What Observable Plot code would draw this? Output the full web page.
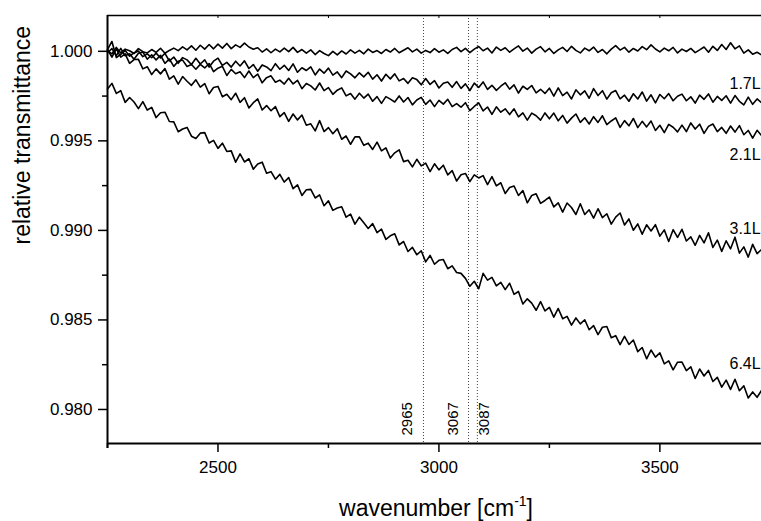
<!DOCTYPE html>
<html><head><meta charset="utf-8">
<script src="https://cdn.jsdelivr.net/npm/d3@7"></script>
<script src="https://cdn.jsdelivr.net/npm/@observablehq/plot@0.6"></script>
<style>
html,body{margin:0;padding:0;background:#fff;overflow:hidden;}
#chart{width:761px;height:521px;}
</style></head><body><div id="chart"></div>
<script>
// wavenumber grid [cm-1]
const wavenumber = [
2250,2260,2270,2280,2290,2300,2310,2320,2330,2340,
2350,2360,2370,2380,2390,2400,2410,2420,2430,2440,
2450,2460,2470,2480,2490,2500,2510,2520,2530,2540,
2550,2560,2570,2580,2590,2600,2610,2620,2630,2640,
2650,2660,2670,2680,2690,2700,2710,2720,2730,2740,
2750,2760,2770,2780,2790,2800,2810,2820,2830,2840,
2850,2860,2870,2880,2890,2900,2910,2920,2930,2940,
2950,2960,2970,2980,2990,3000,3010,3020,3030,3040,
3050,3060,3070,3080,3090,3100,3110,3120,3130,3140,
3150,3160,3170,3180,3190,3200,3210,3220,3230,3240,
3250,3260,3270,3280,3290,3300,3310,3320,3330,3340,
3350,3360,3370,3380,3390,3400,3410,3420,3430,3440,
3450,3460,3470,3480,3490,3500,3510,3520,3530,3540,
3550,3560,3570,3580,3590,3600,3610,3620,3630,3640,
3650,3660,3670,3680,3690,3700,3710,3720,3730];

// relative transmittance, reference (unlabeled) spectrum
const tRef = [
1.00004,0.99986,1.00022,0.99991,1.00012,1.00003,0.99988,1.00015,0.99998,0.99991,
1.00010,0.99994,1.00017,0.99989,1.00005,1.00018,1.00004,1.00025,1.00008,1.00030,
1.00006,1.00034,1.00012,1.00038,1.00014,1.00040,1.00018,1.00044,1.00015,1.00036,
1.00022,1.00046,1.00024,1.00012,1.00020,0.99996,1.00014,0.99992,1.00012,0.99997,
1.00018,0.99998,1.00022,0.99994,1.00010,0.99990,1.00008,0.99982,1.00004,0.99988,
0.99976,1.00000,0.99980,1.00002,0.99985,1.00008,0.99990,1.00005,0.99986,1.00012,
0.99994,1.00004,0.99988,1.00010,0.99996,1.00016,0.99992,1.00006,1.00020,0.99997,
1.00012,0.99990,1.00005,0.99993,1.00015,0.99995,1.00008,0.99988,1.00010,1.00022,
0.99998,1.00016,0.99993,1.00012,1.00027,1.00003,1.00018,0.99991,1.00024,1.00005,
1.00020,0.99995,1.00014,1.00030,1.00001,1.00018,0.99990,1.00012,1.00026,0.99997,
1.00016,0.99988,1.00008,1.00022,0.99999,1.00028,1.00005,0.99991,1.00018,1.00003,
1.00024,0.99994,1.00010,0.99986,1.00012,1.00032,1.00007,1.00022,0.99995,1.00016,
1.00002,1.00026,1.00009,1.00036,1.00013,0.99997,1.00018,1.00003,1.00022,0.99991,
1.00012,0.99999,1.00016,0.99993,1.00008,1.00024,0.99995,1.00028,1.00005,1.00038,
1.00010,1.00048,1.00014,1.00030,0.99990,1.00008,0.99984,0.99995,0.99980];

// 1.7 L
const t17 = [
1.00010,1.00055,0.99965,0.99983,1.00005,0.99973,0.99991,1.00002,0.99970,0.99986,
0.99964,0.99990,0.99963,0.99989,0.99946,0.99968,0.99933,0.99965,0.99952,0.99926,
0.99961,0.99929,0.99952,0.99912,0.99945,0.99962,0.99921,0.99938,0.99912,0.99945,
0.99918,0.99947,0.99904,0.99926,0.99889,0.99924,0.99913,0.99892,0.99931,0.99900,
0.99922,0.99893,0.99930,0.99883,0.99908,0.99893,0.99913,0.99868,0.99901,0.99878,
0.99906,0.99867,0.99885,0.99853,0.99890,0.99874,0.99852,0.99880,0.99857,0.99883,
0.99845,0.99869,0.99834,0.99872,0.99846,0.99874,0.99835,0.99848,0.99821,0.99852,
0.99842,0.99813,0.99848,0.99815,0.99836,0.99795,0.99822,0.99829,0.99799,0.99831,
0.99793,0.99818,0.99781,0.99822,0.99798,0.99829,0.99787,0.99810,0.99782,0.99805,
0.99824,0.99789,0.99813,0.99767,0.99805,0.99787,0.99809,0.99768,0.99788,0.99765,
0.99794,0.99750,0.99796,0.99753,0.99772,0.99734,0.99785,0.99757,0.99779,0.99738,
0.99792,0.99753,0.99780,0.99733,0.99769,0.99781,0.99735,0.99755,0.99721,0.99763,
0.99734,0.99773,0.99722,0.99757,0.99712,0.99759,0.99735,0.99764,0.99724,0.99749,
0.99761,0.99724,0.99746,0.99711,0.99755,0.99732,0.99762,0.99716,0.99748,0.99726,
0.99752,0.99711,0.99753,0.99721,0.99701,0.99744,0.99704,0.99734,0.99713];

// 2.1 L
const t21 = [
0.99992,1.00015,0.99976,1.00016,0.99975,0.99986,0.99956,0.99989,0.99996,0.99956,
0.99981,0.99952,0.99978,0.99933,0.99957,0.99916,0.99944,0.99951,0.99915,0.99926,
0.99900,0.99927,0.99907,0.99932,0.99886,0.99906,0.99916,0.99865,0.99899,0.99875,
0.99886,0.99853,0.99890,0.99853,0.99873,0.99824,0.99853,0.99863,0.99827,0.99839,
0.99817,0.99849,0.99818,0.99838,0.99791,0.99820,0.99807,0.99784,0.99823,0.99780,
0.99797,0.99760,0.99783,0.99796,0.99751,0.99764,0.99733,0.99766,0.99739,0.99761,
0.99721,0.99747,0.99709,0.99747,0.99733,0.99717,0.99751,0.99717,0.99742,0.99701,
0.99728,0.99743,0.99704,0.99728,0.99691,0.99726,0.99705,0.99732,0.99691,0.99708,
0.99688,0.99713,0.99669,0.99692,0.99712,0.99667,0.99689,0.99648,0.99690,0.99660,
0.99679,0.99647,0.99679,0.99634,0.99656,0.99616,0.99655,0.99640,0.99616,0.99656,
0.99623,0.99655,0.99612,0.99642,0.99599,0.99627,0.99650,0.99603,0.99629,0.99594,
0.99635,0.99603,0.99640,0.99591,0.99611,0.99628,0.99575,0.99613,0.99584,0.99625,
0.99574,0.99609,0.99578,0.99611,0.99558,0.99587,0.99546,0.99592,0.99576,0.99550,
0.99588,0.99552,0.99600,0.99566,0.99593,0.99542,0.99581,0.99594,0.99552,0.99575,
0.99542,0.99583,0.99549,0.99585,0.99534,0.99558,0.99515,0.99559,0.99530];

// 3.1 L
const t31 = [
1.00010,0.99967,1.00013,0.99968,0.99986,0.99933,0.99954,0.99955,0.99902,0.99914,
0.99870,0.99902,0.99874,0.99904,0.99845,0.99863,0.99817,0.99859,0.99833,0.99810,
0.99841,0.99800,0.99820,0.99763,0.99798,0.99804,0.99746,0.99760,0.99730,0.99766,
0.99715,0.99741,0.99684,0.99713,0.99734,0.99672,0.99697,0.99668,0.99691,0.99635,
0.99658,0.99609,0.99650,0.99617,0.99644,0.99587,0.99595,0.99556,0.99613,0.99552,
0.99574,0.99540,0.99568,0.99509,0.99527,0.99481,0.99522,0.99522,0.99475,0.99487,
0.99452,0.99493,0.99444,0.99461,0.99404,0.99433,0.99450,0.99384,0.99392,0.99355,
0.99397,0.99360,0.99376,0.99328,0.99372,0.99338,0.99364,0.99310,0.99334,0.99276,
0.99311,0.99318,0.99272,0.99310,0.99293,0.99306,0.99256,0.99300,0.99249,0.99266,
0.99206,0.99240,0.99248,0.99195,0.99222,0.99154,0.99195,0.99204,0.99151,0.99167,
0.99186,0.99131,0.99154,0.99102,0.99153,0.99128,0.99089,0.99149,0.99089,0.99115,
0.99069,0.99121,0.99071,0.99093,0.99035,0.99074,0.99097,0.99030,0.99064,0.99001,
0.99036,0.98979,0.99031,0.98997,0.99032,0.98968,0.99003,0.98938,0.99004,0.98961,
0.99006,0.98941,0.98964,0.98917,0.98972,0.98930,0.98987,0.98905,0.98946,0.98883,
0.98942,0.98897,0.98962,0.98873,0.98908,0.98851,0.98922,0.98870,0.98893];

// 6.4 L
const t64 = [
0.99789,0.99821,0.99765,0.99780,0.99715,0.99742,0.99717,0.99680,0.99719,0.99672,
0.99687,0.99630,0.99657,0.99660,0.99608,0.99606,0.99551,0.99566,0.99575,0.99526,
0.99513,0.99543,0.99546,0.99488,0.99503,0.99458,0.99487,0.99441,0.99444,0.99381,
0.99427,0.99382,0.99400,0.99342,0.99371,0.99381,0.99319,0.99328,0.99286,0.99313,
0.99270,0.99295,0.99233,0.99254,0.99195,0.99227,0.99229,0.99181,0.99198,0.99138,
0.99165,0.99112,0.99125,0.99132,0.99074,0.99091,0.99035,0.99074,0.99043,0.99011,
0.99038,0.98987,0.99007,0.98950,0.98970,0.98981,0.98919,0.98938,0.98882,0.98905,
0.98864,0.98886,0.98824,0.98860,0.98811,0.98833,0.98837,0.98786,0.98802,0.98765,
0.98760,0.98732,0.98688,0.98716,0.98674,0.98760,0.98722,0.98738,0.98690,0.98710,
0.98669,0.98705,0.98643,0.98659,0.98589,0.98618,0.98594,0.98554,0.98602,0.98550,
0.98570,0.98516,0.98564,0.98507,0.98520,0.98471,0.98511,0.98478,0.98501,0.98445,
0.98468,0.98418,0.98459,0.98463,0.98401,0.98412,0.98362,0.98408,0.98363,0.98388,
0.98323,0.98346,0.98283,0.98332,0.98292,0.98316,0.98255,0.98271,0.98221,0.98264,
0.98265,0.98217,0.98238,0.98173,0.98226,0.98187,0.98218,0.98156,0.98179,0.98125,
0.98164,0.98112,0.98169,0.98105,0.98132,0.98064,0.98098,0.98068,0.98106];

const seriesLabels = ["1.7L", "2.1L", "3.1L", "6.4L"];
const peaksLeft = [2965, 3067];
const peaksRight = [3087];
const xTicks = [2500, 3000, 3500];
const xMinorTicks = [2250, 2750, 3250];
const yTicks = [0.980, 0.985, 0.990, 0.995, 1.000];
const yMinorTicks = [0.9825, 0.9875, 0.9925, 0.9975];
const xDomain = [2250, 3730];
const yDomain = [0.9781, 1.002];

const n = Math.min(wavenumber.length, tRef.length, t17.length, t21.length, t31.length, t64.length);
const table = d3.range(n).map(i => ({w: wavenumber[i], r: tRef[i], a: t17[i], b: t21[i], c: t31[i], d: t64[i]}));

const FONT = "Arial, 'Liberation Sans', sans-serif";
const lineStyle = {stroke: "#000", strokeWidth: 1.6, strokeLinejoin: "round"};

const endLabel = (key, label, dy) =>
  Plot.text(table, Plot.selectLast({x: "w", y: key, text: () => label,
    textAnchor: "start", dx: -32, dy, fontSize: 16, fontFamily: FONT, fill: "#000"}));

const plot = Plot.plot({
  width: 761,
  height: 521,
  marginLeft: 107,
  marginRight: 0,
  marginTop: 15,
  marginBottom: 78,
  style: {fontFamily: FONT, background: "#fff", color: "#000"},
  x: {domain: xDomain, label: null},
  y: {domain: yDomain, label: null},
  marks: [
    // dotted peak markers
    Plot.ruleX([...peaksLeft, ...peaksRight], {stroke: "#444", strokeWidth: 1, strokeDasharray: "1,2"}),
    // spectra
    Plot.line(table, {x: "w", y: "r", ...lineStyle}),
    Plot.line(table, {x: "w", y: "a", ...lineStyle}),
    Plot.line(table, {x: "w", y: "b", ...lineStyle}),
    Plot.line(table, {x: "w", y: "c", ...lineStyle}),
    Plot.line(table, {x: "w", y: "d", ...lineStyle}),
    // axes
    Plot.axisX({ticks: xTicks, tickSize: 9, tickPadding: 8, fontSize: 17, tickFormat: d3.format("d"), strokeWidth: 1.5}),
    Plot.axisX({ticks: xMinorTicks, tickSize: 5, tickFormat: () => "", strokeWidth: 1.5}),
    Plot.ruleX([...xMinorTicks, ...xTicks], {insetBottom: 425, stroke: "#000", strokeWidth: 1}),
    Plot.axisY({ticks: yTicks, tickSize: 9, tickPadding: 6, fontSize: 17, tickFormat: d3.format(".3f"), strokeWidth: 1.5}),
    Plot.axisY({ticks: yMinorTicks, tickSize: 5, tickFormat: () => "", strokeWidth: 1.5}),
    Plot.ruleX([xDomain[0]], {stroke: "#000", strokeWidth: 2, insetBottom: -5}),
    Plot.ruleY([yDomain[0]], {stroke: "#000", strokeWidth: 2}),
    Plot.ruleY([yDomain[1]], {stroke: "#000", strokeWidth: 1.6}),
    // peak labels
    Plot.text(peaksLeft, {x: d => d, frameAnchor: "bottom", text: d => String(d), rotate: -90,
      textAnchor: "start", dx: -11, dy: -8, fontSize: 15, fontFamily: FONT, fill: "#000"}),
    Plot.text(peaksRight, {x: d => d, frameAnchor: "bottom", text: d => String(d), rotate: -90,
      textAnchor: "start", dx: 12, dy: -8, fontSize: 15, fontFamily: FONT, fill: "#000"}),
    // series labels
    endLabel("a", seriesLabels[0], -19),
    endLabel("b", seriesLabels[1], 19),
    endLabel("c", seriesLabels[2], -21),
    endLabel("d", seriesLabels[3], -27),
    // y axis title
    Plot.text(["relative transmittance"], {frameAnchor: "left", rotate: -90, dx: -85, dy: 15,
      fontSize: 23, fontFamily: FONT, fill: "#000"})
  ]
});

// x axis title with superscript
const svg = d3.select(plot);
const xt = svg.append("text")
  .attr("x", 436).attr("y", 516)
  .attr("text-anchor", "middle")
  .attr("font-family", FONT).attr("font-size", 23).attr("fill", "#000");
xt.append("tspan").text("wavenumber [cm");
xt.append("tspan").attr("dy", -10).attr("font-size", 14).text("-1");
xt.append("tspan").attr("dy", 10).text("]");

document.getElementById("chart").appendChild(plot);
</script>
</body></html>
